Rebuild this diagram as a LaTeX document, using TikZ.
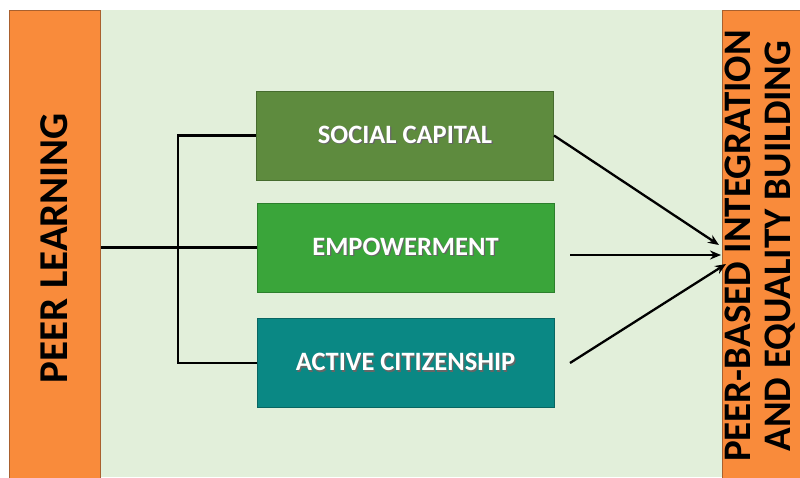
\documentclass[tikz,border=0pt]{standalone}
\usepackage{fontspec}
\setmainfont{Carlito}
\usetikzlibrary{arrows.meta}
\definecolor{bgGreen}{HTML}{E2EFDA}
\definecolor{barOrange}{HTML}{F98B3B}
\definecolor{barEdge}{HTML}{A9602E}
\definecolor{scFill}{HTML}{5E8B3E}
\definecolor{scEdge}{HTML}{466B2E}
\definecolor{emFill}{HTML}{3AA53A}
\definecolor{emEdge}{HTML}{2C7F2C}
\definecolor{acFill}{HTML}{0A8884}
\definecolor{acEdge}{HTML}{086662}
\newcommand{\shadowtxt}[1]{\makebox[0pt][l]{\hspace{1.3pt}\raisebox{-1.3pt}{\color{black!60}#1}}#1}
\tikzset{
  orangebar/.style={fill=barOrange, draw=barEdge, line width=1.2pt, inner sep=0pt},
  barlabel/.style={rotate=90, inner sep=0pt, font=\bfseries, text=black},
  greenbox/.style={minimum width=297pt, minimum height=89pt, inner sep=0pt, line width=1pt, text=white, font=\fontsize{26.5}{30}\selectfont\bfseries},
  link/.style={line width=2.6pt, black},
  arrowlink/.style={line width=2.3pt, black, -{Stealth[length=11pt,width=9pt]}}
}
\begin{document}
\begin{tikzpicture}[x=1pt,y=-1pt]
\useasboundingbox (0,0) rectangle (800,477);
\fill[bgGreen] (100,10) rectangle (722,477);
% left bar
\node[orangebar, minimum width=91pt, minimum height=472pt, anchor=north west] (pl) at (9,10) {};
\node[barlabel, font=\fontsize{41}{45}\selectfont\bfseries] (pltext) at (54,248) {PEER LEARNING};
% right bar
\node[orangebar, minimum width=82pt, minimum height=472pt, anchor=north west] (pe) at (722,10) {};
\node[barlabel, align=center, font=\fontsize{39}{40}\selectfont\bfseries] (petext) at (760,246) {PEER-BASED INTEGRATION\\AND EQUALITY BUILDING};
% boxes
\node[greenbox, fill=scFill, draw=scEdge] (sc) at (405,135.5) {\shadowtxt{SOCIAL CAPITAL}};
\node[greenbox, fill=emFill, draw=emEdge] (em) at (405.5,247.5) {\shadowtxt{EMPOWERMENT}};
\node[greenbox, fill=acFill, draw=acEdge] (ac) at (405.5,363) {\shadowtxt{ACTIVE CITIZENSHIP}};
% junction coordinates
\coordinate (jt) at (178,135.5);
\coordinate (jb) at (178,363);
\coordinate (s2) at (570,255);
\coordinate (s3) at (570,363);
\coordinate (t1) at (719,245);
\coordinate (t2) at (721,255);
\coordinate (t3) at (726,264);
% left connectors
\draw[link] (pl.east |- em.west) -- (em.west);
\draw[link] (ac.west) -- (jb) -- (jt) -- (sc.west);
% arrows
\draw[arrowlink] (sc.east) -- (t1);
\draw[arrowlink] (s2) -- (t2);
\draw[arrowlink] (s3) -- (t3);
\end{tikzpicture}
\end{document}
